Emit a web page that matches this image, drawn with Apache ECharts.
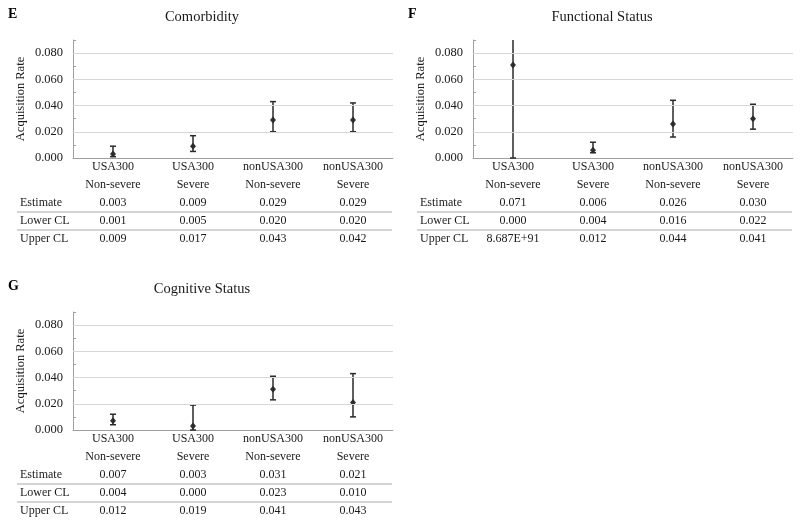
<!DOCTYPE html>
<html>
<head>
<meta charset="utf-8">
<script src="https://cdn.jsdelivr.net/npm/echarts@6/dist/echarts.min.js"></script>
<style>html,body{margin:0;padding:0;background:#fff}#c{width:800px;height:524px}</style>
</head>
<body>
<div id="c"></div>
<script>
// ---- data ----
const categories = ['USA300 Non-severe', 'USA300 Severe', 'nonUSA300 Non-severe', 'nonUSA300 Severe'];
const rowLabels = ['Estimate', 'Lower CL', 'Upper CL'];
const yTicks = [0, 0.02, 0.04, 0.06, 0.08];
const gridTicks = [0.02, 0.04, 0.06, 0.08];

const estE = [0.003, 0.009, 0.029, 0.029];
const lowE = [0.001, 0.005, 0.020, 0.020];
const upE  = [0.009, 0.017, 0.043, 0.042];

const estF = [0.071, 0.006, 0.026, 0.030];
const lowF = [0.000, 0.004, 0.016, 0.022];
const upF  = [8.687e91, 0.012, 0.044, 0.041];

const estG = [0.007, 0.003, 0.031, 0.021];
const lowG = [0.004, 0.000, 0.023, 0.010];
const upG  = [0.012, 0.019, 0.041, 0.043];

const panels = [
  {letter: 'E', title: 'Comorbidity', est: estE, low: lowE, up: upE},
  {letter: 'F', title: 'Functional Status', est: estF, low: lowF, up: upF},
  {letter: 'G', title: 'Cognitive Status', est: estG, low: lowG, up: upG}
];

// ---- layout ----
const offsets = [[0, 0], [400, 0], [0, 272]];
const Y_MAX = 0.09;
const FONT = "'Liberation Serif', 'Times New Roman', serif";
const TXT = '#1a1a1a';

function fmt(v) {
  if (Math.abs(v) >= 1) return v.toExponential(3).toUpperCase();
  return v.toFixed(3);
}

const chart = echarts.init(document.getElementById('c'));
const grid = [], xAxis = [], yAxis = [], series = [], graphic = [];

panels.forEach((p, k) => {
  const [ox, oy] = offsets[k];
  grid.push({left: ox + 73, top: oy + 40, width: 320, height: 118, containLabel: false});
  xAxis.push({
    type: 'category', gridIndex: k, data: categories, boundaryGap: true,
    axisLine: {lineStyle: {color: '#a0a0a0', width: 1}},
    axisTick: {show: false},
    axisLabel: {
      interval: 0, margin: 0, fontFamily: FONT, fontSize: 12, color: TXT, lineHeight: 18,
      formatter: (v, i) => [v.replace(' ', '\n'), fmt(p.est[i]), fmt(p.low[i]), fmt(p.up[i])].join('\n')
    }
  });
  yAxis.push({
    type: 'value', gridIndex: k, min: 0, max: Y_MAX, interval: 0.01,
    name: 'Acquisition Rate', nameLocation: 'middle', nameGap: 46,
    nameTextStyle: {fontFamily: FONT, fontSize: 12.5, color: TXT},
    axisLine: {show: true, lineStyle: {color: '#a0a0a0', width: 1}},
    axisTick: {show: true, inside: true, length: 3, lineStyle: {color: '#a0a0a0'}},
    splitLine: {show: false},
    axisLabel: {
      margin: 10, fontFamily: FONT, fontSize: 12.5, color: TXT,
      formatter: v => {
        const m = Math.round(v * 1000);
        return yTicks.some(t => Math.round(t * 1000) === m) ? v.toFixed(3) : '';
      }
    }
  });
  // markers + gridlines
  series.push({
    type: 'scatter', xAxisIndex: k, yAxisIndex: k, z: 2,
    symbol: 'diamond', symbolSize: [6, 7],
    itemStyle: {color: '#000'},
    data: p.est.map((v, i) => [i, v]),
    silent: true,
    markLine: {
      silent: true, symbol: 'none', label: {show: false},
      lineStyle: {color: '#d6d6d6', type: 'solid', width: 1},
      emphasis: {disabled: true},
      data: gridTicks.map(t => ({yAxis: t}))
    }
  });
  // error bars
  series.push({
    type: 'custom', xAxisIndex: k, yAxisIndex: k, z: 3, silent: true,
    encode: {x: 0, y: [2, 3]},
    data: p.est.map((v, i) => [i, v, p.low[i], p.up[i]]),
    renderItem: (params, api) => {
      const i = api.value(0), lo = api.value(2), hi = api.value(3);
      const x = api.coord([i, 0])[0];
      const yLo = api.coord([i, lo])[1];
      const yHi = api.coord([i, Math.min(hi, Y_MAX)])[1];
      const st = {stroke: '#2a2a2a', lineWidth: 1.5};
      const ch = [
        {type: 'line', shape: {x1: x, y1: yLo, x2: x, y2: yHi}, style: st},
        {type: 'line', shape: {x1: x - 3, y1: yLo, x2: x + 3, y2: yLo}, style: st}
      ];
      if (hi <= Y_MAX) ch.push({type: 'line', shape: {x1: x - 3, y1: yHi, x2: x + 3, y2: yHi}, style: st});
      return {type: 'group', children: ch};
    }
  });
  // decoration: letter, title, table row labels and rules
  graphic.push({type: 'text', x: ox + 8, y: oy + 14, style: {text: p.letter, font: 'bold 14px ' + FONT, fill: '#000', verticalAlign: 'middle'}});
  graphic.push({type: 'text', x: ox + 202, y: oy + 17, style: {text: p.title, font: '14.5px ' + FONT, fill: TXT, align: 'center', verticalAlign: 'middle'}});
  rowLabels.forEach((r, j) => {
    graphic.push({type: 'text', x: ox + 20, y: oy + 203 + j * 18, style: {text: r, font: '12px ' + FONT, fill: TXT, verticalAlign: 'middle'}});
  });
  [212, 230].forEach(yy => {
    graphic.push({type: 'line', shape: {x1: ox + 17, y1: oy + yy, x2: ox + 392, y2: oy + yy}, style: {stroke: '#a8a8a8', lineWidth: 1}});
  });
});

chart.setOption({animation: false, backgroundColor: '#fff', grid, xAxis, yAxis, series, graphic});
</script>
</body>
</html>
